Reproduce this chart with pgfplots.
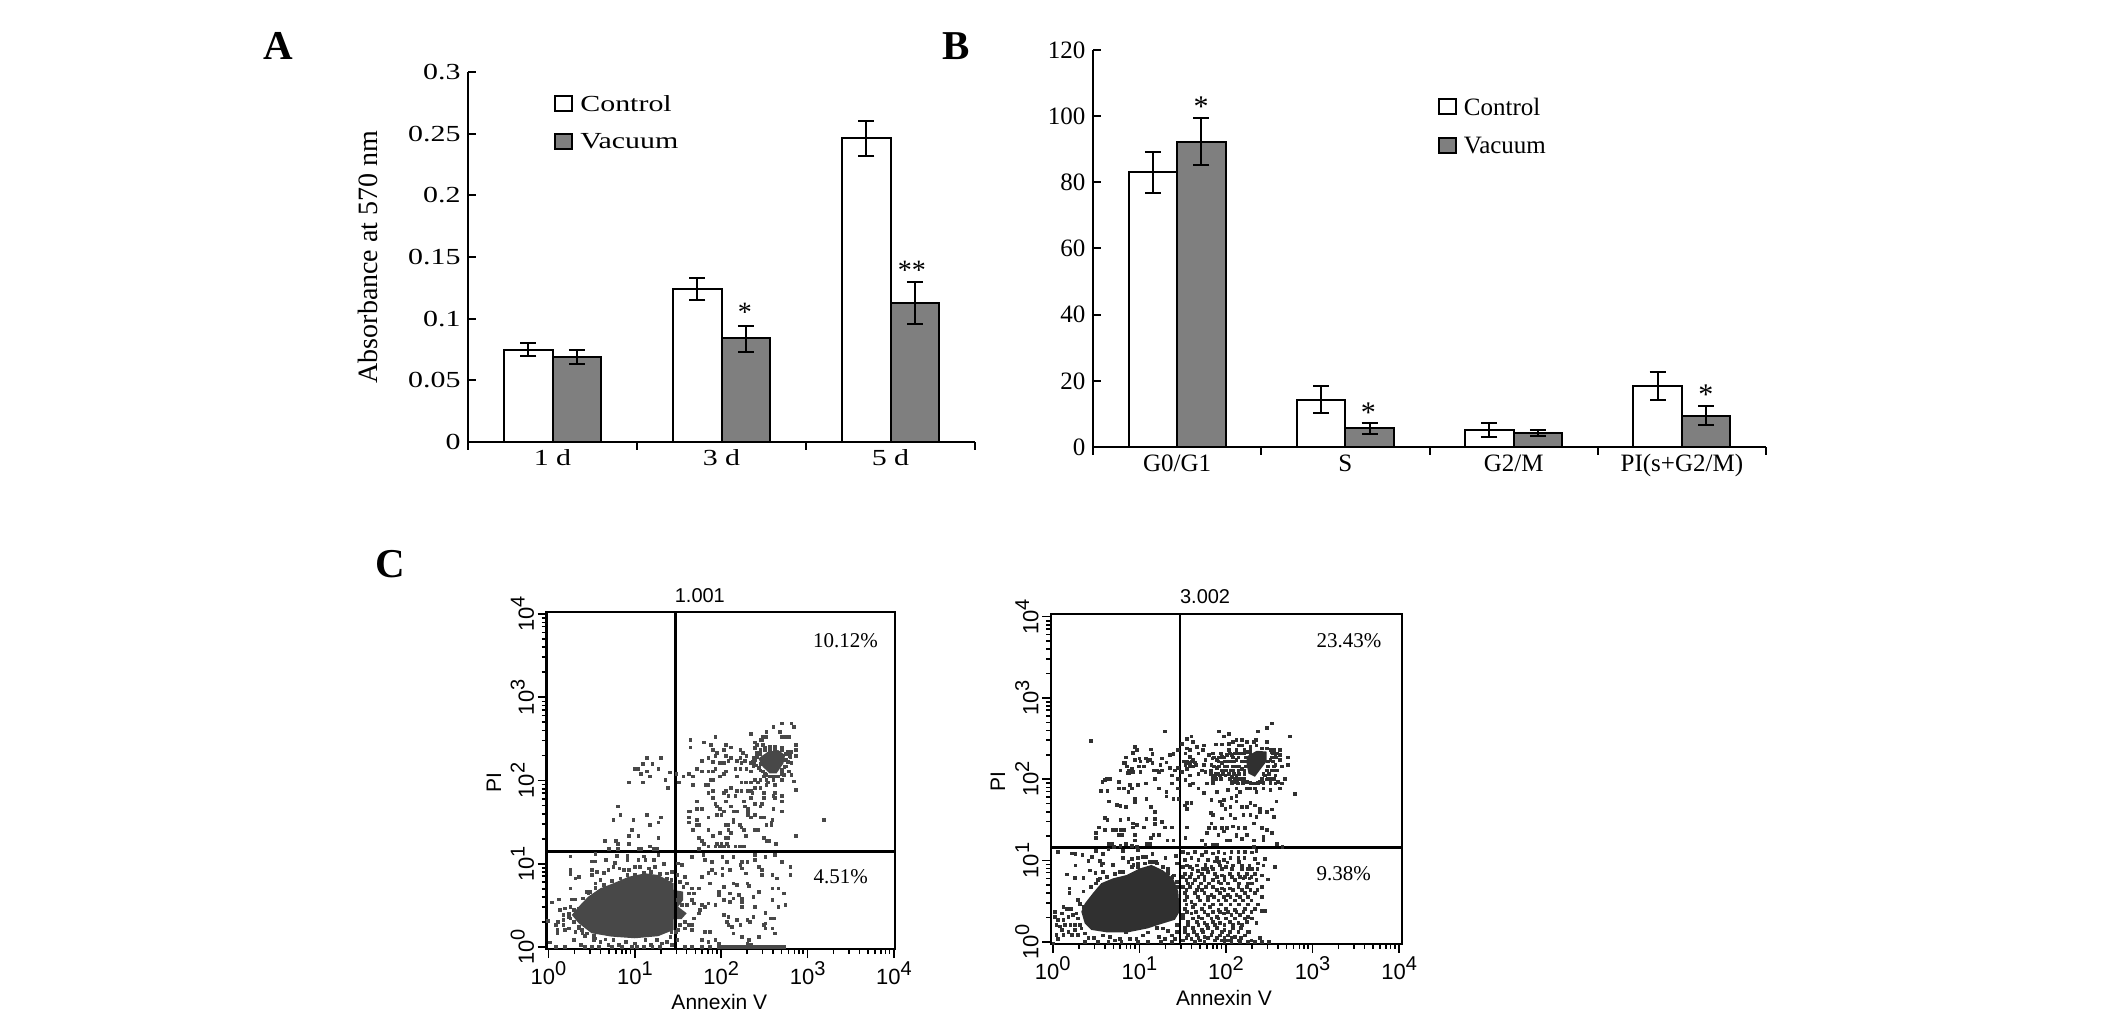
\documentclass[border=0pt]{standalone}
\usepackage{fontspec}
\usepackage{pgfplots}
\usepackage{pgfplotstable}
\pgfplotsset{compat=1.18}
\setmainfont{Liberation Serif}
\newfontfamily\wideserif[FakeStretch=1.3]{Liberation Serif}
\newfontfamily\flowsans{Liberation Sans}
\definecolor{vacuumgray}{HTML}{7F7F7F}
\definecolor{dotA}{HTML}{484848}
\definecolor{dotB}{HTML}{303030}
\newcommand{\fs}[1]{\fontsize{#1}{#1}\selectfont}
\newcommand{\pw}[1]{10\raisebox{0.42em}{\fs{20}#1}}

% panel A: mean, error up, error down
\pgfplotstableread{
x  c      cp     cm     v      vp     vm
1  0.0747 0.0053 0.0047 0.0690 0.0057 0.0056
2  0.1238 0.0092 0.0083 0.0847 0.0093 0.0117
3  0.2463 0.0143 0.0143 0.1128 0.0167 0.0171
}\panelA
% panel B
\pgfplotstableread{
x  c    cp   cm   v    vp   vm
1  83.0 6.2  6.1  92.2 7.3  7.1
2  14.3 4.2  4.0  5.6  1.7  1.6
3  5.1  2.2  2.1  4.2  0.9  1.0
4  18.5 4.1  4.2  9.3  3.0  2.8
}\panelB

\pgfplotsset{
  barpanel/.style={
    scale only axis, axis x line*=bottom, axis y line*=left,
    axis line style={line width=2pt,-}, tick style={line width=2pt,black},
    tick align=inside, major tick length=8pt,
    ybar=0pt, bar width=48.5pt, clip=false,
    xticklabels={}, scaled y ticks=false,
    extra x tick style={major tick length=0pt},
    x tick label style={yshift=-4pt}, y tick label style={xshift=-4pt},
    legend cell align=left, area legend,
    legend image code/.code={\draw[#1,line width=2pt] (0pt,-7pt) rectangle (17pt,8pt);\path[draw=none,fill=none] (17pt,0pt) -- (23pt,0pt);},
  },
  errs/.style={error bars/.cd, y dir=both, y explicit,
    error bar style={line width=2pt,black},
    error mark options={rotate=90,black,mark size=8pt,line width=2pt}},
  flow/.style={
    scale only axis, axis line style={line width=2.5pt}, clip=false,
    tick align=outside, major tick length=9pt, minor tick length=5pt,
    tick style={line width=1.6pt,black}, xtick pos=bottom, ytick pos=left,
    xtick={0,1,2,3,4}, ytick={0,1,2,3,4},
    xticklabels={\pw{0},\pw{1},\pw{2},\pw{3},\pw{4}},
    yticklabels={\pw{0},\pw{1},\pw{2},\pw{3},\pw{4}},
    minor xtick={.30,.48,.60,.70,.78,.85,.90,.95,1.30,1.48,1.60,1.70,1.78,1.85,1.90,1.95,2.30,2.48,2.60,2.70,2.78,2.85,2.90,2.95,3.30,3.48,3.60,3.70,3.78,3.85,3.90,3.95},
    minor ytick={.30,.48,.60,.70,.78,.85,.90,.95,1.30,1.48,1.60,1.70,1.78,1.85,1.90,1.95,2.30,2.48,2.60,2.70,2.78,2.85,2.90,2.95,3.30,3.48,3.60,3.70,3.78,3.85,3.90,3.95},
    tick label style={font=\flowsans\fs{22}},
    yticklabel style={rotate=90,anchor=south,yshift=0pt},
    xlabel={Annexin V}, ylabel={PI},
    label style={font=\flowsans\fs{21},anchor=center},
    title style={font=\flowsans\fs{20},anchor=center},
  },
}

\begin{document}
\begin{tikzpicture}
\path[use as bounding box] (0,0) rectangle (2126pt,1028pt);
\node[anchor=base west,font=\bfseries\fs{41}] at (260pt,968pt) {A};
\node[anchor=base west,font=\bfseries\fs{41}] at (939pt,968pt) {B};
\node[anchor=base west,font=\bfseries\fs{41}] at (372pt,450pt) {C};

% ---------- A
\begin{axis}[barpanel, at={(468pt,586pt)}, anchor=south west,
  width=507pt, height=370pt,
  xmin=0.5, xmax=3.5, ymin=0, ymax=0.3,
  xtick={0.5,1.5,2.5,3.5},
  extra x ticks={1,2,3}, extra x tick labels={1 d,3 d,5 d},
  ytick={0,0.05,0.1,0.15,0.2,0.25,0.3},
  yticklabels={0,0.05,0.1,0.15,0.2,0.25,0.3},
  tick label style={font=\wideserif\fs{23}},
  ylabel={Absorbance at 570 nm},
  ylabel style={font=\fs{28},at={(axis description cs:-0.197,0.5)},anchor=center},
  legend style={at={(axis description cs:0.170,0.9425)},anchor=north west,draw=none,fill=none,
    font=\wideserif\fs{23},row sep=17pt,inner sep=0pt},
]
\addplot[draw=black,line width=2pt,fill=white,errs] table[x=x,y=c,y error plus=cp,y error minus=cm]{\panelA};
\addplot[draw=black,line width=2pt,fill=vacuumgray,errs] table[x=x,y=v,y error plus=vp,y error minus=vm]{\panelA};
\legend{Control,Vacuum}
\node[anchor=base,font=\fs{28}] at (axis cs:2.139,0.0975) {*};
\node[anchor=base,font=\fs{28}] at (axis cs:3.127,0.1315) {**};
\end{axis}

% ---------- B
\begin{axis}[barpanel, at={(1093pt,581pt)}, anchor=south west,
  width=673pt, height=397pt,
  xmin=0.5, xmax=4.5, ymin=0, ymax=120,
  xtick={0.5,1.5,2.5,3.5,4.5},
  extra x ticks={1,2,3,4}, extra x tick labels={G0/G1,S,G2/M,PI(s+G2/M)},
  ytick={0,20,40,60,80,100,120},
  yticklabels={0,20,40,60,80,100,120},
  tick label style={font=\fs{25}},
  legend style={at={(axis description cs:0.5123,0.885)},anchor=north west,draw=none,fill=none,
    font=\fs{25},row sep=16pt,inner sep=0pt},
]
\addplot[draw=black,line width=2pt,fill=white,errs] table[x=x,y=c,y error plus=cp,y error minus=cm]{\panelB};
\addplot[draw=black,line width=2pt,fill=vacuumgray,errs] table[x=x,y=v,y error plus=vp,y error minus=vm]{\panelB};
\legend{Control,Vacuum}
\node[anchor=base,font=\fs{30}] at (axis cs:1.142,100) {*};
\node[anchor=base,font=\fs{30}] at (axis cs:2.137,7.3) {*};
\node[anchor=base,font=\fs{30}] at (axis cs:4.143,12.7) {*};
\end{axis}

% ---------- C, 1.001 (coordinates are log10 of the channel value)
\begin{axis}[flow, at={(546.5pt,79pt)}, anchor=south west,
  width=348.5pt, height=337pt,
  xmin=-0.023, xmax=4.012, ymin=-0.024, ymax=4.024,
  xlabel style={at={(axis description cs:0.496,-0.157)}},
  ylabel style={at={(axis description cs:-0.151,0.493)}},
  title style={at={(axis description cs:0.44,1.032)}}, title={1.001},
]
% dense populations
\addplot[fill=dotA,draw=none] coordinates {(.27,.385)(.35,.485)(.46,.605)(.60,.705)(.75,.765)(.93,.845)(1.12,.885)(1.27,.865)(1.45,.765)(1.45,.685)(1.56,.665)(1.56,.565)(1.50,.485)(1.60,.405)(1.54,.335)(1.45,.335)(1.45,.205)(1.27,.13)(1.00,.105)(.73,.125)(.50,.165)(.35,.285)};
\addplot[fill=dotA,draw=none] coordinates {(2.43,2.265)(2.54,2.345)(2.66,2.365)(2.74,2.305)(2.72,2.205)(2.64,2.085)(2.56,2.085)(2.48,2.165)};
\addplot[only marks,mark=square*,mark size=1.35pt,color=dotA] coordinates {
(1.14,2.27)(1.30,2.27)(1.09,2.20)(1.20,2.20)(1.00,2.14)(1.03,2.14)(1.27,2.14)(1.14,2.11)(1.40,2.10)(1.07,2.08)(1.17,2.05)(1.35,2.01)(.93,1.98)(1.09,1.98)(1.38,1.91)
(.80,1.69)(.83,1.59)(.75,1.53)(.98,1.53)(1.14,1.59)(1.30,1.56)(1.27,1.50)(1.17,1.47)(.96,1.41)(.93,1.34)(1.04,1.34)(1.27,1.31)(.65,1.28)(.78,1.28)(.80,1.24)(.93,1.24)(1.17,1.21)(.70,1.18)(.80,1.18)(1.04,1.18)(1.07,1.18)(1.22,1.18)(1.25,1.18)
(1.64,2.49)(1.93,2.53)(1.64,2.40)(1.80,2.46)(1.88,2.43)(2.05,2.43)(1.90,2.37)(2.11,2.40)(2.03,2.37)(1.95,2.33)(1.93,2.30)(1.85,2.27)(1.90,2.23)(2.05,2.30)(2.11,2.27)(2.08,2.24)(1.98,2.21)(2.03,2.21)(1.77,2.24)(1.72,2.14)(1.77,2.11)(1.85,2.11)(1.93,2.14)(1.90,2.11)(2.05,2.11)(2.03,2.08)
(1.48,2.08)(1.56,2.05)(1.62,2.08)(1.51,1.98)(1.67,2.05)(1.67,1.95)(1.90,2.01)(1.88,2.01)(1.98,2.05)(1.85,1.95)(1.82,1.95)(1.90,1.88)(1.85,1.85)(2.05,1.88)(2.03,1.85)(2.08,1.82)(2.11,1.91)(2.16,1.82)(1.90,1.79)(1.72,1.75)(1.93,1.72)(1.95,1.69)(1.98,1.66)(2.05,1.75)(2.11,1.69)(2.14,1.63)(2.18,1.63)
(1.62,1.63)(1.64,1.63)(1.72,1.66)(1.77,1.66)(1.95,1.59)(2.00,1.59)(2.03,1.63)(1.62,1.56)(1.85,1.56)(1.72,1.53)(1.62,1.50)(1.72,1.47)(1.74,1.47)(2.14,1.53)(2.14,1.50)(2.05,1.47)(2.08,1.47)(1.67,1.41)(1.85,1.41)(2.08,1.41)(2.11,1.37)(1.90,1.34)(1.98,1.37)(2.05,1.31)(2.08,1.31)(1.74,1.31)(1.77,1.28)(1.80,1.24)(1.85,1.21)(1.93,1.21)(1.95,1.24)(1.98,1.21)(2.00,1.24)(2.03,1.21)(2.06,1.24)(2.08,1.21)(2.16,1.21)(2.21,1.21)(1.74,1.18)
(2.22,2.37)(2.25,2.33)(2.29,2.30)(2.22,2.27)(2.18,2.24)(2.23,2.21)(2.27,2.24)(2.16,2.14)(2.22,2.14)(2.29,2.14)(2.34,2.21)(2.37,2.17)(2.34,2.11)(2.39,2.46)(2.41,2.43)(2.45,2.49)(2.48,2.53)(2.52,2.53)(2.52,2.59)(2.34,2.56)(2.60,2.65)(2.70,2.69)(2.68,2.59)(2.70,2.53)(2.75,2.53)(2.78,2.53)(2.81,2.69)(2.84,2.65)(2.86,2.43)(2.86,2.37)(2.86,2.30)(2.81,2.35)(2.79,2.30)(2.81,2.21)(2.75,2.17)(2.78,2.11)(2.81,2.07)(2.84,1.99)(2.86,1.89)
(3.19,1.53)(2.86,1.34)(2.63,1.24)(2.52,1.28)(2.55,1.28)(2.49,1.31)(2.52,1.47)(2.58,1.47)(2.59,1.53)(2.58,1.50)(2.60,1.66)(2.70,1.63)(2.70,1.75)(2.70,1.82)(2.62,1.79)(2.62,1.85)(2.60,1.82)(2.49,1.85)(2.49,1.79)(2.45,1.91)(2.39,1.91)(2.36,1.85)(2.34,1.88)(2.31,1.88)(2.28,1.98)(2.34,1.98)(2.39,2.01)(2.42,1.98)(2.45,2.01)(2.49,2.05)(2.52,2.01)(2.60,2.01)(2.62,1.95)(2.70,2.01)(2.72,2.07)(2.52,1.95)(2.54,1.98)
(2.18,2.05)(2.23,1.98)(2.18,1.88)(2.23,1.88)(2.26,1.75)(2.31,1.66)(2.31,1.63)(2.31,1.59)(2.34,1.56)(2.39,1.59)(2.45,1.56)(2.49,1.56)(2.45,1.69)(2.39,1.72)(2.47,1.72)(2.34,1.79)(2.27,1.69)(2.42,1.41)(2.39,1.41)(2.21,1.47)(2.23,1.44)(2.26,1.41)(2.28,1.34)(2.26,1.21)(2.49,1.56)
(2.45,2.37)(2.41,2.33)(2.37,2.27)(2.38,2.21)(2.43,2.15)(2.48,2.11)(2.52,2.07)(2.60,2.05)(2.66,2.05)(2.70,2.13)(2.75,2.25)(2.77,2.35)(2.70,2.39)(2.62,2.41)(2.56,2.41)(2.50,2.39)(2.48,2.43)(2.47,2.49)(2.39,2.39)
(2.41,2.285)(2.45,2.325)(2.50,2.365)(2.56,2.373)(2.62,2.385)(2.70,2.365)(2.75,2.325)(2.80,2.285)(2.77,2.225)(2.73,2.165)(2.70,2.085)(2.64,2.053)(2.56,2.053)(2.50,2.085)(2.45,2.125)(2.40,2.185)(2.36,2.225)(2.39,2.245)(2.45,2.205)
(.25,1.09)(.54,1.12)(.79,1.10)(.91,1.10)(1.10,1.09)(1.27,1.11)(.50,1.03)(.54,1.03)(.66,1.05)(.77,1.01)(.91,1.05)(1.04,1.05)(1.12,1.05)(1.22,1.05)(1.33,.997)
(.25,.925)(.25,.877)(.31,.825)(.35,.845)(.50,.925)(.50,.865)(.56,.905)(.64,.893)(.69,.925)(.75,.965)(.82,.945)(.87,.925)(.93,.925)(1.00,.965)(1.06,.965)(1.16,.945)(1.23,.965)(1.37,.885)(1.43,.905)(.60,.805)(.54,.765)(.25,.705)(.44,.665)(.27,.573)(.31,.573)(.12,.573)(.04,.537)(.40,.585)
(.13,.445)(.19,.465)(.25,.485)(.35,.465)(.17,.385)(.23,.405)(.25,.345)(.11,.305)(.08,.265)(.17,.265)(.23,.225)(.10,.205)(.10,.165)(.31,.185)(.35,.225)(.39,.165)(.42,.133)(.52,.085)(.52,.133)(.29,.085)(.01,.057)(.37,.025)(-.01,.317)
(.48,.665)(.54,.715)(.64,.745)(.73,.797)(.83,.825)(.91,.865)(1.00,.865)(1.10,.893)(1.18,.905)(1.29,.877)(1.37,.825)(1.42,.805)(.46,.645)(.29,.445)(.23,.365)(.17,.325)(.29,.305)(.19,.205)(.385,.205)(.44,.165)(.54,.105)(.655,.095)(.35,.245)
(.60,.065)(.69,.025)(.75,.085)(.81,.025)(.89,.065)(.96,.005)(1.00,.045)(1.12,.085)(1.18,.025)(1.25,.085)(1.31,.045)(1.37,.065)(1.41,.125)(1.43,.025)(.08,.005)(.19,.005)(.42,.005)(.50,.005)(.58,.005)(.73,.005)(.85,.005)(1.02,.005)(1.10,.005)(1.20,.005)(1.29,.005)(1.42,.185)
(1.50,1.005)(1.54,.985)(1.66,1.085)(1.79,1.105)(1.81,1.045)(1.89,1.025)(2.01,1.085)(2.06,1.025)(2.14,1.085)(2.24,1.025)(2.30,1.025)(2.39,1.105)(2.39,1.045)(2.51,1.085)(2.62,1.105)(2.70,1.025)(2.80,.965)(2.80,.865)(2.59,.865)(2.64,.825)(2.47,.925)(2.47,.865)(2.43,.965)(2.28,.885)(2.24,.945)(2.22,.985)(2.10,.925)(2.01,.945)(2.01,.865)(1.89,.925)(1.93,.885)(1.85,.893)(1.77,.845)(1.58,.845)(1.49,.865)(1.52,.785)(1.56,.725)(1.60,.765)(1.66,.705)(1.74,.705)(1.62,.645)(1.68,.645)
(1.87,.765)(2.03,.725)(2.14,.765)(2.18,.745)(2.30,.765)(2.32,.733)(1.97,.665)(1.97,.625)(2.10,.645)(2.20,.625)(2.24,.585)(2.24,.545)(2.14,.585)(2.10,.545)(2.37,.605)(2.43,.665)(2.59,.705)(2.66,.705)(2.72,.645)(2.59,.565)(2.66,.485)(2.74,.505)(2.24,.485)(2.39,.485)(2.51,.413)(2.03,.565)(1.93,.505)(1.85,.525)(1.81,.485)(1.75,.445)(2.03,.385)(2.08,.365)(2.61,.345)(2.57,.345)(2.06,.305)(2.08,.265)(2.12,.245)(2.18,.325)(2.22,.265)(2.30,.325)(2.33,.305)(2.37,.365)(2.51,.285)(2.49,.265)(2.51,.225)(2.62,.165)(2.59,.225)(2.14,.165)(2.24,.125)(2.32,.085)(2.43,.125)
(1.81,.185)(1.87,.185)(1.66,.205)(1.58,.305)(1.50,.205)(1.47,.185)(1.49,.085)(1.77,.085)(1.85,.065)(1.93,.085)(1.97,.045)(2.30,.045)(2.34,.025)
(1.58,.005)(1.66,.005)(1.77,.005)(1.87,.005)(1.97,.005)(2.01,.005)(2.04,.005)(2.07,.005)(2.10,.005)(2.13,.005)(2.16,.005)(2.19,.005)(2.22,.005)(2.25,.005)(2.28,.005)(2.31,.005)(2.34,.005)(2.37,.005)(2.40,.005)(2.43,.005)(2.46,.005)(2.49,.005)(2.52,.005)(2.55,.005)(2.58,.005)(2.61,.005)(2.64,.005)(2.68,.005)(2.72,.005)
(1.50,.565)(1.54,.505)(1.60,.505)(1.66,.565)(1.68,.525)(1.77,.505)(1.74,.405)(1.68,.345)(1.62,.265)(1.66,.265)(1.52,.265)(1.58,.225)
};
\addplot[line width=2.5pt,black] coordinates {(1.47,-0.024)(1.47,4.024)};
\addplot[line width=2.5pt,black] coordinates {(-0.023,1.15)(4.012,1.15)};
\node[font=\fs{21}] at (axis cs:3.44,3.685) {10.12\%};
\node[font=\fs{21}] at (axis cs:3.385,0.85) {4.51\%};
\end{axis}

% ---------- C, 3.002
\begin{axis}[flow, at={(1051pt,84pt)}, anchor=south west,
  width=351pt, height=330pt,
  xmin=-0.02, xmax=4.033, ymin=-0.028, ymax=4.033,
  xlabel style={at={(axis description cs:0.493,-0.164)}},
  ylabel style={at={(axis description cs:-0.151,0.491)}},
  title style={at={(axis description cs:0.439,1.035)}}, title={3.002},
]
\addplot[fill=dotB,draw=none] coordinates {(.33,.37)(.37,.47)(.465,.60)(.56,.72)(.696,.78)(.85,.82)(1.00,.90)(1.14,.945)(1.27,.88)(1.39,.78)(1.45,.62)(1.465,.37)(1.41,.27)(1.215,.206)(1.10,.165)(.87,.116)(.62,.116)(.446,.145)(.369,.227)};
\addplot[fill=dotB,draw=none] coordinates {(2.24,2.28)(2.355,2.35)(2.47,2.34)(2.47,2.22)(2.39,2.11)(2.335,2.03)(2.26,2.07)(2.24,2.18)};
\addplot[only marks,mark=square*,mark size=1.35pt,color=dotB] coordinates {
(1.29,2.59)(.95,2.40)(.97,2.36)(.92,2.33)(.84,2.27)(1.13,2.37)(1.15,2.31)(.82,2.20)(.78,2.11)(.85,2.16)(.87,2.11)(.91,2.13)(.88,2.08)(.95,2.24)(1.00,2.26)(1.07,2.26)(1.12,2.24)(1.15,2.20)(.99,2.16)(1.05,2.16)(1.01,2.09)(1.22,2.09)(1.16,2.11)(1.26,2.26)(1.24,2.18)(1.31,2.21)(1.35,2.30)(1.39,2.31)(1.44,2.36)(1.35,2.14)(1.41,2.11)(1.44,2.14)(1.37,2.05)(1.44,2.01)(1.18,2.01)
(.83,2.20)(.86,2.16)(.89,2.11)(.92,2.09)(.86,2.08)(1.01,2.22)(1.09,2.22)(1.20,2.11)(1.26,2.11)(1.57,2.20)(1.60,2.22)(1.64,2.21)(1.58,2.16)(1.53,2.18)(1.62,2.16)
(1.07,1.95)(.98,1.93)(.89,1.93)(.91,1.89)(.87,1.85)(.76,1.89)(.82,1.89)(.62,2.01)(.57,1.97)(.60,1.99)(.66,2.01)(.76,1.97)(.55,1.86)(.63,1.86)(1.31,1.85)(1.22,1.89)(1.37,1.95)(1.44,1.89)(.65,1.73)(.74,1.69)(.78,1.67)(.84,1.66)(.95,1.72)(.95,1.76)(1.08,1.76)(1.13,1.66)(1.31,1.79)(1.39,1.76)(1.45,1.76)(1.18,1.60)(.60,1.53)(.63,1.50)(.78,1.50)(.87,1.51)(.92,1.46)(.97,1.44)(1.08,1.51)(1.18,1.51)(1.18,1.45)(1.26,1.48)(1.29,1.41)(1.37,1.41)(1.05,1.41)(.92,1.41)
(.60,1.38)(.69,1.38)(.73,1.38)(.78,1.38)(.82,1.38)(.53,1.41)(.50,1.34)(.50,1.28)(.76,1.32)(.80,1.32)(.95,1.32)(1.16,1.32)(1.13,1.28)(1.22,1.32)(1.08,1.21)(1.12,1.21)(.95,1.25)(.64,1.21)(.68,1.21)(.84,1.21)(.91,1.18)(.97,1.17)(.78,1.18)(.70,1.17)(1.32,1.25)(1.39,1.25)(.44,2.47)
(1.55,2.50)(1.60,2.53)(1.49,2.44)(1.62,2.46)(1.66,2.40)(1.74,2.42)(1.73,2.36)(1.55,2.38)(1.58,2.36)(1.53,2.32)(1.58,2.28)(1.51,2.22)(1.55,2.22)(1.62,2.24)(1.65,2.18)(1.58,2.18)(1.55,2.13)(1.68,2.32)(1.76,2.24)(1.72,2.11)(1.68,2.07)(1.58,2.05)(1.49,2.09)(1.53,1.99)(1.58,1.93)(1.62,1.95)(1.68,1.89)(1.74,1.83)(1.78,1.95)(1.84,2.01)(1.87,2.03)(1.93,2.05)(1.89,1.85)(2.02,1.87)
(1.55,1.71)(1.60,1.71)(1.55,1.64)(1.52,1.68)(1.55,1.41)(1.53,1.28)(1.92,2.59)(2.03,2.56)(1.97,2.53)(2.37,2.59)(2.47,2.63)(2.53,2.69)(2.34,2.49)(2.74,2.53)(1.88,2.43)(1.95,2.43)(2.03,2.44)(2.08,2.46)(2.12,2.49)(2.18,2.49)(2.24,2.46)(2.32,2.46)(2.14,2.42)(2.18,2.42)(2.47,2.46)(1.80,2.30)(1.85,2.32)(2.62,2.36)(2.71,2.27)(2.71,2.18)(2.68,2.01)(2.64,1.95)(2.62,1.89)(2.79,1.82)
(2.58,1.73)(2.53,1.63)(2.47,1.60)(2.55,1.54)(2.41,1.40)(2.47,1.38)(2.53,1.34)(2.43,1.29)(2.32,1.46)(2.35,1.54)(2.39,1.64)(2.33,1.68)(2.28,1.71)(2.24,1.66)(2.18,1.66)(2.12,1.73)(2.06,1.77)(1.97,1.75)(1.93,1.73)(1.95,1.69)(1.99,1.64)(2.05,1.66)(1.83,1.75)(1.82,1.59)(1.85,1.56)(1.95,1.52)(1.83,1.46)(1.80,1.40)(1.87,1.40)(1.95,1.40)(2.01,1.40)(2.08,1.42)(2.14,1.40)(2.22,1.40)(2.05,1.56)(2.10,1.52)(2.20,1.56)(2.28,1.56)(2.39,1.60)
(1.78,1.34)(1.91,1.32)(1.97,1.36)(2.12,1.32)(2.18,1.27)(2.24,1.32)(2.32,1.25)(2.43,1.25)(1.72,1.25)(1.76,1.19)(1.85,1.20)(1.89,1.20)(2.01,1.25)(2.05,1.25)(2.12,1.30)(2.59,1.21)(2.65,1.17)(2.32,1.17)(2.12,1.80)
(1.84,2.26)(1.89,2.24)(1.95,2.28)(2.01,2.30)(2.07,2.30)(2.12,2.32)(2.18,2.32)(2.24,2.34)(1.95,2.20)(2.01,2.22)(2.07,2.22)(2.12,2.24)(2.18,2.22)(1.89,2.14)(1.95,2.11)(2.01,2.16)(2.05,2.11)(2.12,2.16)(2.18,2.13)(1.85,2.05)(1.91,2.07)(1.99,2.05)(2.07,2.03)(2.12,2.05)(2.18,2.01)(2.24,1.97)(2.09,1.97)(2.14,1.95)(2.32,1.95)(2.39,1.97)(2.47,2.00)(2.53,2.01)(2.57,2.05)(2.45,2.05)(2.53,2.11)(2.57,2.18)(2.51,2.24)(2.57,2.28)(2.53,2.34)(2.58,2.32)(2.47,2.38)(2.41,2.38)(2.28,2.40)(2.35,2.42)(2.43,1.89)(2.24,1.89)(2.28,1.89)(2.33,1.89)(2.12,1.89)(2.16,1.85)(2.35,1.85)(2.51,1.87)(2.60,1.97)(2.57,1.95)(2.62,2.24)(2.62,2.30)(2.64,2.16)(2.59,2.11)(1.74,2.18)(1.76,2.09)(1.82,2.11)(1.83,2.18)
(1.94,2.32)(2.04,2.32)(2.10,2.32)(2.15,2.32)(2.21,2.32)(2.28,2.32)(2.54,2.32)(2.59,2.32)(1.86,2.27)(1.92,2.27)(1.98,2.27)(2.08,2.27)(2.14,2.27)(2.23,2.27)(2.53,2.27)(2.58,2.27)(1.91,2.22)(1.98,2.22)(2.04,2.22)(2.09,2.22)(2.21,2.22)(2.25,2.22)(2.48,2.22)(2.54,2.22)(1.86,2.16)(1.92,2.16)(1.98,2.16)(2.08,2.16)(2.15,2.16)(2.23,2.16)(2.48,2.16)(2.55,2.16)
(1.95,2.11)(2.00,2.11)(2.08,2.11)(2.14,2.11)(2.21,2.11)(2.47,2.11)(2.54,2.11)(1.82,2.065)(1.88,2.065)(1.96,2.065)(2.03,2.065)(2.09,2.065)(2.15,2.065)(2.21,2.065)(2.43,2.065)(2.49,2.065)(1.88,2.01)(1.94,2.01)(2.04,2.01)(2.10,2.01)(2.15,2.01)(2.21,2.01)(2.41,2.01)(2.48,2.01)(2.55,2.01)(1.85,1.96)(2.07,1.96)(2.13,1.96)(2.19,1.96)(2.28,1.96)(2.37,1.96)(2.43,1.96)(2.51,1.96)(2.03,2.36)(2.12,2.36)(2.21,2.36)(2.28,2.36)(2.51,2.36)(2.55,2.36)
(.06,1.11)(.22,1.09)(.26,1.08)(.34,1.07)(.50,1.12)(.58,1.08)(.64,1.14)(.81,1.12)(.98,1.13)(1.15,1.08)(1.07,1.05)(1.04,1.05)(.98,1.03)(.91,1.02)(.45,1.05)(.41,1.00)(.54,1.00)(.58,.965)(.81,1.03)(.87,.985)(.93,.945)(.98,.965)(1.27,.92)(1.19,.985)(1.14,.985)(1.30,1.03)(1.42,1.06)(1.43,.965)(.26,.94)(.56,.945)(.69,.945)(.77,.86)(.58,.86)
(.52,.76)(.62,.80)(.715,.84)(.81,.86)(.91,.92)(.98,.92)(1.06,.965)(1.12,.985)(1.20,.965)(1.27,.92)(1.33,.85)(1.38,.80)(1.43,.68)
(.16,.83)(.25,.79)(.35,.79)(.43,.88)(.49,.85)(.54,.78)(.50,.72)(.44,.68)(.35,.62)(.19,.66)(.19,.60)(.29,.52)(.31,.47)(.35,.43)(.12,.43)(.16,.41)(.21,.41)(.02,.37)(.02,.31)(.10,.35)(.06,.27)(.12,.27)(.18,.31)(.23,.33)(.27,.35)(.29,.29)(.04,.21)(.08,.19)(.14,.21)(.20,.21)(.25,.21)(.31,.21)(.10,.145)(.18,.125)(.25,.145)(.33,.165)(.04,.09)(.12,.09)(.06,.04)(.22,.09)(.29,.085)(.37,.105)(.41,.05)(.47,.05)(.58,.08)(.735,.145)(.66,.06)(.715,.02)(.77,.04)(.84,.116)(.89,.04)(.965,.04)(1.04,.08)(1.10,.116)(1.20,.17)(1.27,.165)(1.33,.133)(1.22,.06)(1.29,.04)(1.37,.08)(1.43,.125)(1.41,.04)(.004,-.02)(.37,0)(.52,0)(.64,0)(.79,0)(.98,0)(1.10,0)(1.25,0)(1.37,0)(1.43,.206)(1.39,.29)(1.41,.49)(1.43,.74)(1.35,.72)(1.40,.82)(1.33,.90)
(1.50,1.11)(1.56,1.09)(1.64,1.11)(1.72,1.07)(1.77,1.11)(1.85,1.09)(1.91,1.11)(1.98,1.09)(2.06,1.11)(2.14,1.11)(2.22,1.11)(2.30,1.10)(2.35,1.12)(1.52,1.01)(1.60,1.03)(1.68,1.01)(1.79,1.01)(1.89,1.03)(1.97,1.01)(2.05,1.03)(2.14,1.03)(2.21,1.03)(2.33,1.02)(2.45,1.02)(2.56,.92)
(1.50,.92)(1.58,.92)(1.66,.94)(1.73,.90)(1.83,.92)(1.93,.94)(2.00,.92)(2.08,.94)(2.18,.94)(2.27,.94)(2.37,.965)(2.43,.94)(1.52,.84)(1.60,.84)(1.72,.84)(1.79,.86)(1.87,.84)(1.95,.82)(2.04,.84)(2.14,.84)(2.24,.84)(2.33,.84)(2.41,.82)(2.48,.77)
(1.54,.76)(1.64,.76)(1.75,.76)(1.85,.76)(1.91,.74)(1.98,.76)(2.10,.76)(2.20,.78)(2.27,.78)(2.35,.76)(1.50,.68)(1.58,.68)(1.68,.68)(1.77,.68)(1.85,.68)(1.95,.66)(2.04,.66)(2.14,.68)(2.24,.68)(2.41,.68)(1.52,.60)(1.64,.60)(1.75,.60)(1.83,.575)(1.93,.60)(2.02,.575)(2.12,.575)(2.22,.60)(2.33,.60)(2.41,.555)(1.52,.51)(1.60,.49)(1.70,.51)(1.79,.51)(1.91,.51)(2.00,.51)(2.10,.51)(2.19,.51)(2.29,.51)
(1.52,.41)(1.62,.43)(1.72,.41)(1.81,.43)(1.91,.39)(2.00,.41)(2.10,.39)(2.22,.41)(2.33,.41)(2.41,.38)(2.45,.38)(1.50,.33)(1.60,.35)(1.68,.31)(1.79,.33)(1.89,.31)(1.97,.35)(2.06,.33)(2.16,.33)(2.25,.31)(1.56,.25)(1.66,.25)(1.75,.23)(1.85,.25)(1.93,.23)(2.04,.25)(2.14,.23)(2.24,.25)(2.35,.23)(1.52,.17)(1.62,.17)(1.72,.145)(1.79,.17)(1.89,.17)(1.98,.145)(2.08,.17)(2.17,.17)(2.27,.12)
(1.56,.085)(1.66,.09)(1.75,.06)(1.83,.09)(1.93,.08)(2.02,.08)(2.10,.06)(2.22,.08)(2.39,.05)(1.50,.02)(1.60,.04)(1.70,.02)(1.87,.02)(1.95,.02)(2.02,.02)(2.14,.02)(2.29,.02)(1.64,0)(1.75,0)(1.98,0)(2.06,0)(2.16,0)(2.25,0)(2.33,0)(2.41,0)(2.49,0)
(1.55,.94)(1.61,.895)(1.67,.87)(1.76,.95)(1.78,.895)(1.85,.895)(1.915,.985)(1.95,.895)(1.87,.99)(2.015,.98)(2.07,.895)(2.15,.985)(2.18,.895)(2.25,.895)(2.30,.90)(2.36,.895)
(1.50,.80)(1.58,.80)(1.68,.80)(1.75,.80)(1.89,.80)(1.98,.80)(2.07,.80)(2.16,.80)(2.22,.80)(2.29,.80)(1.56,.72)(1.61,.72)(1.71,.72)(1.80,.72)(1.94,.72)(2.02,.72)(2.15,.72)(2.25,.72)(2.30,.72)
(1.54,.64)(1.66,.64)(1.72,.64)(1.89,.64)(1.98,.64)(2.08,.64)(2.18,.64)(2.28,.64)(2.36,.64)(1.55,.555)(1.67,.555)(1.79,.555)(1.86,.555)(1.97,.555)(2.05,.555)(2.16,.555)(2.25,.555)
(1.54,.46)(1.64,.46)(1.75,.46)(1.85,.46)(1.94,.46)(2.05,.46)(2.15,.46)(2.25,.46)(2.37,.46)(1.55,.37)(1.65,.37)(1.75,.37)(1.85,.37)(1.93,.37)(2.02,.37)(2.12,.37)(2.20,.37)(2.29,.37)
(1.50,.29)(1.62,.29)(1.72,.29)(1.83,.29)(1.91,.29)(2.00,.29)(2.10,.29)(2.22,.29)(2.30,.29)(1.56,.21)(1.68,.21)(1.78,.21)(1.87,.21)(1.98,.21)(2.08,.21)(2.18,.21)
(1.52,.125)(1.63,.125)(1.73,.125)(1.84,.125)(1.95,.125)(2.04,.125)(2.14,.125)(2.25,.125)(1.54,.05)(1.68,.05)(1.79,.05)(1.89,.05)(1.98,.05)(2.06,.05)(2.17,.05)
};
\addplot[line width=2.5pt,black] coordinates {(1.47,-0.028)(1.47,4.033)};
\addplot[line width=2.5pt,black] coordinates {(-0.02,1.157)(4.033,1.157)};
\node[font=\fs{21}] at (axis cs:3.42,3.70) {23.43\%};
\node[font=\fs{21}] at (axis cs:3.36,0.835) {9.38\%};
\end{axis}
\end{tikzpicture}
\end{document}
